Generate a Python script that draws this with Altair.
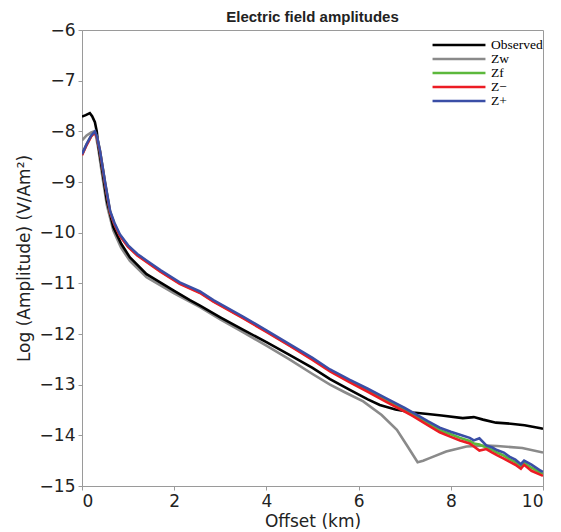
import altair as alt
import pandas as pd

series_names = ["Observed", "Zw", "Zf", "Z−", "Z+"]
series_colors = ["#000000", "#8a8a8a", "#5cb83c", "#ec1c24", "#3a4ea6"]

obs_x = [0, 0.08, 0.17, 0.22, 0.28, 0.32, 0.35, 0.43, 0.54, 0.68, 0.85, 1.04, 1.4, 2.0, 2.34, 2.56, 3.0, 3.5, 4.0, 4.5,
         5.0, 5.38, 5.8, 6.2, 6.46, 6.8, 7.18, 7.5, 7.8, 8.26, 8.5, 8.7, 8.98, 9.3, 9.6, 9.95, 10.0]
obs_y = [-7.71, -7.68, -7.64, -7.7, -7.82, -8.0, -8.25, -8.71, -9.37, -9.89, -10.22, -10.49, -10.82, -11.15, -11.33, -11.44, -11.67, -11.92, -12.16, -12.41,
         -12.67, -12.89, -13.1, -13.29, -13.4, -13.49, -13.55, -13.58, -13.61, -13.66, -13.64, -13.69, -13.75, -13.77, -13.8, -13.86, -13.87]

zw_x = [0, 0.1, 0.2, 0.26, 0.3, 0.35, 0.43, 0.54, 0.68, 0.85, 1.04, 1.4, 2.0, 2.56, 3.0, 3.5, 4.0, 4.5, 5.0, 5.38,
        5.7, 6.1, 6.5, 6.83, 7.05, 7.28, 7.4, 7.54, 7.9, 8.34, 8.77, 9.0, 9.55, 10.0]
zw_y = [-8.18, -8.08, -8.02, -8.0, -8.08, -8.32, -8.82, -9.46, -9.96, -10.3, -10.56, -10.88, -11.2, -11.47, -11.71, -11.97, -12.23, -12.5, -12.79, -13.0,
        -13.15, -13.33, -13.6, -13.89, -14.2, -14.53, -14.5, -14.45, -14.32, -14.22, -14.2, -14.21, -14.25, -14.34]

z_x = [0, 0.1, 0.2, 0.28, 0.33, 0.39, 0.45, 0.5, 0.61, 0.7, 0.82, 1.0, 1.2, 1.4, 1.7, 2.12, 2.56, 2.85, 3.5, 4.0,
       4.5, 5.0, 5.38, 5.8, 6.2, 6.6, 7.0, 7.18, 7.5, 7.76, 8.0, 8.2, 8.41, 8.5, 8.62, 8.77, 8.9, 9.0, 9.15, 9.27,
       9.4, 9.52, 9.59, 9.75, 9.95, 10.0]
zp_y = [-8.45, -8.25, -8.08, -8.0, -8.12, -8.38, -8.72, -9.0, -9.57, -9.8, -10.03, -10.25, -10.42, -10.55, -10.74, -10.98, -11.16, -11.33, -11.66, -11.93,
        -12.2, -12.47, -12.7, -12.9, -13.08, -13.27, -13.46, -13.55, -13.72, -13.85, -13.93, -13.99, -14.05, -14.1, -14.06, -14.2, -14.24, -14.29, -14.34, -14.42,
        -14.48, -14.57, -14.5, -14.58, -14.7, -14.72]
zm_y = [-8.47, -8.27, -8.1, -8.02, -8.14, -8.4, -8.74, -9.03, -9.6, -9.83, -10.06, -10.28, -10.45, -10.58, -10.77, -11.01, -11.19, -11.36, -11.69, -11.96,
        -12.23, -12.51, -12.74, -12.95, -13.14, -13.34, -13.53, -13.62, -13.8, -13.94, -14.03, -14.1, -14.16, -14.22, -14.3, -14.27, -14.34, -14.39, -14.46, -14.52,
        -14.58, -14.66, -14.58, -14.7, -14.78, -14.8]
zf_y = [-8.46, -8.26, -8.09, -8.01, -8.13, -8.39, -8.73, -9.02, -9.59, -9.82, -10.05, -10.27, -10.44, -10.57, -10.76, -11.0, -11.18, -11.35, -11.68, -11.95,
        -12.22, -12.49, -12.72, -12.93, -13.11, -13.3, -13.5, -13.59, -13.76, -13.9, -13.98, -14.05, -14.11, -14.16, -14.18, -14.24, -14.29, -14.34, -14.4, -14.47,
        -14.53, -14.62, -14.54, -14.64, -14.74, -14.76]

frames = []
for order, (name, xs, ys) in enumerate([
    ("Zw", zw_x, zw_y),
    ("Observed", obs_x, obs_y),
    ("Zf", z_x, zf_y),
    ("Z−", z_x, zm_y),
    ("Z+", z_x, zp_y),
]):
    frames.append(pd.DataFrame({"offset": xs, "amp": ys, "series": name, "ord": order}))
df = pd.concat(frames, ignore_index=True)

chart = alt.Chart(df).mark_line(strokeWidth=2.6, clip=True).encode(
    x=alt.X("offset:Q", title="Offset (km)",
            scale=alt.Scale(domain=[0, 10], nice=False),
            axis=alt.Axis(values=[0, 2, 4, 6, 8, 10], format="d")),
    y=alt.Y("amp:Q", title="Log (Amplitude) (V/Am²)",
            scale=alt.Scale(domain=[-15, -6], nice=False),
            axis=alt.Axis(values=list(range(-15, -5)), format="d")),
    color=alt.Color("series:N",
                    scale=alt.Scale(domain=series_names, range=series_colors),
                    legend=alt.Legend(title=None, orient="none", legendX=370, legendY=8,
                                      padding=0,
                                      symbolType="M-5,0H5", symbolSize=112, symbolStrokeWidth=2.6,
                                      labelFont="Liberation Serif", labelFontSize=13.5,
                                      labelColor="#000", rowPadding=0, labelOffset=25)),
    detail="ord:O",
    order="ord:O",
).properties(
    width=461, height=456,
    title=alt.TitleParams("Electric field amplitudes", font="Liberation Sans", fontSize=15,
                          fontWeight="bold", color="#222", offset=-4),
    padding={"left": 74, "top": 22, "right": 10, "bottom": 46},
    autosize=alt.AutoSizeParams(type="none"),
).configure_view(
    stroke="#9a9a9a", strokeWidth=1
).configure_axis(
    grid=False, domainColor="#9a9a9a", tickColor="#9a9a9a", tickSize=4,
    labelFont="DejaVu Sans", labelFontSize=17, labelColor="#222",
    titleFont="DejaVu Sans", titleFontSize=17, titleFontWeight="normal", titleColor="#222",
    labelPadding=3,
).configure_axisY(titlePadding=6).configure_axisX(titlePadding=4)

chart.save("out.html", embed_options={"renderer": "svg", "actions": False})
